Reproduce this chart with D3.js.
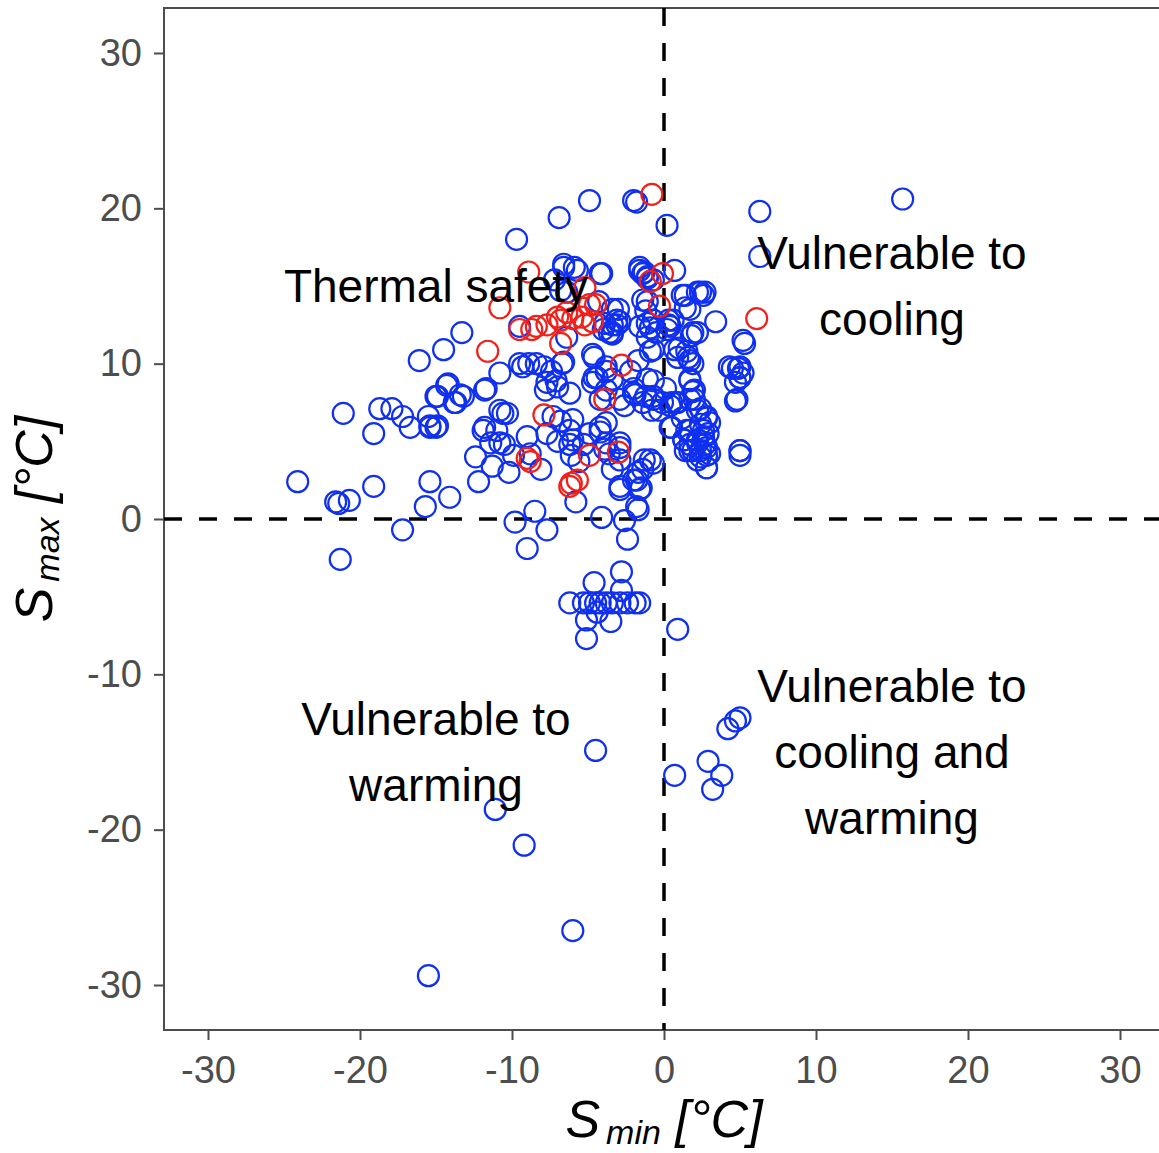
<!DOCTYPE html>
<html>
<head>
<meta charset="utf-8">
<script src="https://cdn.jsdelivr.net/npm/d3@7"></script>
<style>
  body { margin: 0; background: #fff; }
  text { font-family: "Liberation Sans", Arial, sans-serif; }
</style>
</head>
<body>
<svg id="chart" width="1159" height="1153"></svg>
<script>
// values: [Smin, Smax]
const blueSites = [
  [15.7,20.6],[6.3,19.8],[6.3,16.9],[-4.9,20.5],[-6.9,19.4],[-2.0,20.5],[0.2,18.9],[-9.7,18.0],
  [-24.1,2.4],[-21.1,6.8],[-21.6,1.1],[-20.7,1.2],[-21.3,-2.6],[-19.1,2.1],[-19.1,5.5],[-18.7,7.1],
  [-17.9,7.1],[-17.2,-0.7],[-16.7,5.9],[-16.1,10.2],[-15.7,0.8],[-15.5,-29.4],[-15.4,2.4],[-15.5,6.6],
  [-15.4,5.9],[-15.0,5.9],[-14.5,10.9],[-14.3,8.6],[-15.0,7.9],[-14.1,1.4],[-13.8,7.5],[-13.2,7.9],
  [-13.3,12.0],[-12.4,4.0],[-12.2,2.4],[-11.8,5.9],[-11.7,8.4],[-11.4,4.9],[-11.3,3.4],[-11.1,-18.7],
  [-11.0,5.7],[-10.8,9.4],[-10.8,7.0],[-10.5,4.8],[-10.3,6.8],[-10.2,3.0],[-9.9,4.1],[-9.8,-0.2],
  [-9.2,-21.0],[-9.3,9.8],[-9.0,-1.9],[-9.0,5.3],[-8.8,4.2],[-8.5,0.5],[-8.1,3.2],[-7.7,-0.7],
  [-7.8,8.3],[-7.4,9.5],[-7.1,8.9],[-7.0,5.0],[-6.8,6.3],[-6.6,10.1],[-6.4,11.7],[-6.2,5.7],
  [-6.2,4.8],[-6.1,4.1],[-6.0,-26.5],[-5.8,1.1],[-5.6,3.7],[-5.3,4.8],[-4.9,5.5],[-4.6,10.4],
  [-4.6,9.1],[-4.5,-14.9],[-4.2,7.7],[-4.2,5.6],[-4.1,0.1],[-3.9,4.5],[-3.8,8.3],[-3.4,12.0],
  [-3.1,12.5],[-3.0,13.5],[-2.9,4.6],[-2.9,3.8],[-2.9,1.9],[-2.6,-0.1],[-2.4,-1.3],[-2.6,7.3],
  [-1.9,8.0],[-1.7,3.0],[-1.7,0.6],[-1.5,2.0],[-1.3,3.8],[-1.2,7.9],[-1.1,9.0],[-0.9,10.8],
  [-0.8,7.0],[-0.7,3.6],[-0.7,8.9],[-1.6,16.0],[-1.3,15.9],[-1.1,15.5],[-4.1,15.8],[-5.7,16.0],
  [-6.6,16.2],[-7.2,15.4],[-4.0,12.2],[-4.3,14.0],[-1.2,13.4],[-0.9,12.3],[-1.4,14.1],[0.7,16.0],
  [0.3,12.5],[0.3,12.8],[0.2,12.2],[1.2,14.4],[1.7,13.5],[2.4,14.6],[2.7,14.6],[3.4,12.7],
  [1.9,12.0],[1.5,10.8],[1.0,11.0],[5.3,11.3],[4.3,9.8],[5.0,9.8],[5.0,9.1],[4.7,7.6],
  [5.0,4.4],[5.0,4.1],[1.7,10.2],[1.9,10.0],[1.7,8.9],[1.9,8.2],[2.0,7.7],[2.2,7.0],
  [0.8,7.5],[0.4,7.3],[-0.3,7.0],[0.1,8.4],[-0.1,7.5],[1.3,5.1],[1.7,4.8],[1.9,4.4],
  [2.4,4.4],[2.7,4.8],[2.9,5.5],[2.8,6.5],[2.6,5.7],[2.8,4.1],[2.8,3.3],[2.2,5.1],
  [1.7,5.7],[0.5,5.9],[0.9,7.5],[1.2,6.5],[1.4,4.4],[2.4,6.1],[2.2,3.8],[0.9,-7.1],
  [0.7,-16.5],[2.9,-15.6],[3.2,-17.4],[3.8,-16.5],[4.2,-13.5],[4.7,-13.0],[5.0,-12.8],
  [-6.2,-5.4],[-5.3,-5.4],[-4.9,-5.4],[-4.5,-5.4],[-4.2,-5.4],[-3.8,-5.4],[-3.4,-5.4],[-2.9,-5.4],
  [-2.4,-5.4],[-1.9,-5.4],[-1.6,-5.4],[-4.6,-4.1],[-2.8,-3.4],[-2.8,-4.6],[-5.1,-7.7],[-5.1,-6.5],
  [-3.5,-6.6],[-4.4,-6.0],
  [-13.4,8.0],[-11.8,8.3],[-7.7,8.8],[-7.0,8.5],[-6.2,8.1],[-4.7,8.8],[-3.4,9.0],[-2.0,8.4],
  [-0.7,7.7],[-10.6,6.8],[-7.3,6.6],[-6.0,6.4],[-11.9,5.7],[-10.8,4.9],[-7.7,5.5],[-6.0,5.1],
  [-4.2,5.9],[-3.8,4.9],[-1.4,3.2],[-2.0,2.5],[-1.6,1.9],[-2.9,2.1],[-6.6,16.4],[-5.9,16.2],
  [-4.2,15.8],[-1.8,20.4],[-1.6,16.2],[-1.1,15.6],[-3.4,13.5],[-3.1,12.8],[-3.6,12.0],[-6.8,14.7],
  [-6.4,14.6],[-4.7,10.6],[-8.4,10.0],[-9.5,10.0],[-1.6,12.4],[-1.1,11.7],[-0.7,12.8],[-1.4,15.8],
  [-0.7,15.4],[-1.1,14.0],[1.4,14.4],[2.2,14.6],[2.6,14.4],[0.6,12.8],[0.4,12.4],[1.4,13.6],
  [-1.1,12.6],[-0.5,12.0],[1.8,11.8],[2.2,12.0],[-2.9,12.7],[-3.4,12.5],[-0.7,10.9],[0.7,10.9],
  [0.9,10.4],[1.6,10.4],[5.2,11.5],[4.5,9.7],[4.9,9.7],[5.2,9.4],[-1.7,10.2],[-2.2,9.5],
  [-3.8,9.8],[1.7,9.0],[2.0,8.3],[1.7,7.7],[2.4,7.1],[2.8,6.6],[3.0,6.2],[2.6,5.3],
  [2.2,4.9],[2.8,4.6],[3.0,4.2],[2.4,4.0],[1.7,4.4],[1.3,5.1],[1.5,5.7],[2.8,3.3],
  [4.8,7.7],[5.0,4.4],[4.7,8.8],[5.0,9.1],[0.5,7.5],[0.4,5.9],[-0.7,7.9],[-1.4,7.5],
  [-2.0,8.1],[-2.9,7.7],[-0.9,3.8],[-1.8,2.5],[-3.4,3.2],[-3.6,4.2],[-3.8,6.2],[-2.9,4.9],
  [-1.8,0.8],[-17.2,6.6],[-15.4,6.0],[-14.9,6.0],[-14.2,8.7],[-14.9,7.9],[-13.7,7.5],[-21.4,1.0],
  [-9.5,12.4],[-3.9,12.6],[-3.4,11.9],[-6.7,10.0],[-7.9,9.8],[-8.9,10.0],[-3.8,9.5],[-4.4,9.1]
];

const redSites = [
  [-0.8,20.9],[-8.9,15.9],[-10.8,13.6],[-11.6,10.8],[-9.5,12.2],[-8.7,12.2],[-7.7,12.5],[-7.0,13.0],
  [-6.8,11.3],[-6.4,13.3],[-6.0,12.9],[-5.4,13.0],[-5.2,14.9],[-4.5,13.8],[-4.7,12.7],[-5.2,12.5],
  [-4.9,13.8],[-8.4,12.4],[-6.8,12.8],[-2.8,9.9],[-0.1,15.8],[-0.9,15.3],[-0.3,13.7],[6.1,12.9],
  [-7.9,6.7],[-9.0,3.9],[-8.8,3.7],[-3.9,7.7],[-3.0,4.3],[-4.9,4.1],[-6.1,2.3],[-5.7,2.5],[-6.2,2.1]
];

const tickValues = [-30, -20, -10, 0, 10, 20, 30];

const quadrantLabels = [
  { x: -15, y: 15, lines: ["Thermal safety"] },
  { x: 15, y: 15, lines: ["Vulnerable to", "cooling"] },
  { x: -15, y: -15, lines: ["Vulnerable to", "warming"] },
  { x: 15, y: -15, lines: ["Vulnerable to", "cooling and", "warming"] }
];

const svg = d3.select("#chart");

const x = d3.scaleLinear().domain([-30, 30]).range([208, 1120]);
const y = d3.scaleLinear().domain([-30, 30]).range([985, 53]);

const panelLeft = 164, panelTop = 8, panelBottom = 1030, panelRight = 1175;
const grey = "#4d4d4d";

// panel outline (right edge falls outside the picture)
svg.append("path")
  .attr("d", `M${panelRight},${panelTop}H${panelLeft}V${panelBottom}H${panelRight}`)
  .attr("fill", "none")
  .attr("stroke", grey)
  .attr("stroke-width", 2);

// dashed reference lines at zero
svg.append("line")
  .attr("x1", panelLeft).attr("x2", panelRight)
  .attr("y1", y(0)).attr("y2", y(0))
  .attr("stroke", "#000").attr("stroke-width", 3.5)
  .attr("stroke-dasharray", "18,17");
svg.append("line")
  .attr("x1", x(0)).attr("x2", x(0))
  .attr("y1", panelTop).attr("y2", panelBottom)
  .attr("stroke", "#000").attr("stroke-width", 3.5)
  .attr("stroke-dasharray", "18,17");

// axes
const xAxis = svg.append("g")
  .attr("transform", `translate(0,${panelBottom})`)
  .call(d3.axisBottom(x).tickValues(tickValues).tickSize(10).tickPadding(16).tickFormat(d3.format("d")));
const yAxis = svg.append("g")
  .attr("transform", `translate(${panelLeft},0)`)
  .call(d3.axisLeft(y).tickValues(tickValues).tickSize(10).tickPadding(12).tickFormat(d3.format("d")));

[xAxis, yAxis].forEach(a => {
  a.select(".domain").remove();
  a.selectAll(".tick line").attr("stroke", grey).attr("stroke-width", 2);
  a.selectAll(".tick text")
    .attr("fill", grey)
    .style("font-size", "38px")
    .style("font-family", "'Liberation Sans', Arial, sans-serif");
});
// minus sign as a plain hyphen like the source
svg.selectAll(".tick text").text(d => String(d));

// points
svg.append("g").selectAll("circle")
  .data(blueSites)
  .enter()
  .append("circle")
  .attr("cx", d => x(d[0]))
  .attr("cy", d => y(d[1]))
  .attr("r", 10.5)
  .attr("fill", "none")
  .attr("stroke", "#1030f0")
  .attr("stroke-width", 2.2);

svg.append("g").selectAll("circle")
  .data(redSites)
  .enter()
  .append("circle")
  .attr("cx", d => x(d[0]))
  .attr("cy", d => y(d[1]))
  .attr("r", 10.5)
  .attr("fill", "none")
  .attr("stroke", "#f0201a")
  .attr("stroke-width", 2.2);

// quadrant annotations
const lineHeight = 66;
quadrantLabels.forEach(l => {
  const t = svg.append("text")
    .attr("text-anchor", "middle")
    .attr("fill", "#000")
    .style("font-size", "46px");
  const top = y(l.y) - (l.lines.length - 1) * lineHeight / 2 + 16;
  l.lines.forEach((s, i) => {
    t.append("tspan")
      .attr("x", x(l.x))
      .attr("y", top + i * lineHeight)
      .text(s);
  });
});

// axis titles
function axisTitle(sel, sub) {
  sel.attr("text-anchor", "middle")
    .attr("fill", "#000")
    .style("font-style", "italic")
    .style("font-size", "52px");
  sel.append("tspan").text("S");
  sel.append("tspan").attr("dy", 7).attr("dx", 6).style("font-size", "34px").text(sub);
  sel.append("tspan").attr("dy", -7).text(" [°C]");
}

axisTitle(svg.append("text")
  .attr("x", x(0))
  .attr("y", 1137), "min");

axisTitle(svg.append("text")
  .attr("transform", `translate(52,${y(0)}) rotate(-90)`), "max");
</script>
</body>
</html>
